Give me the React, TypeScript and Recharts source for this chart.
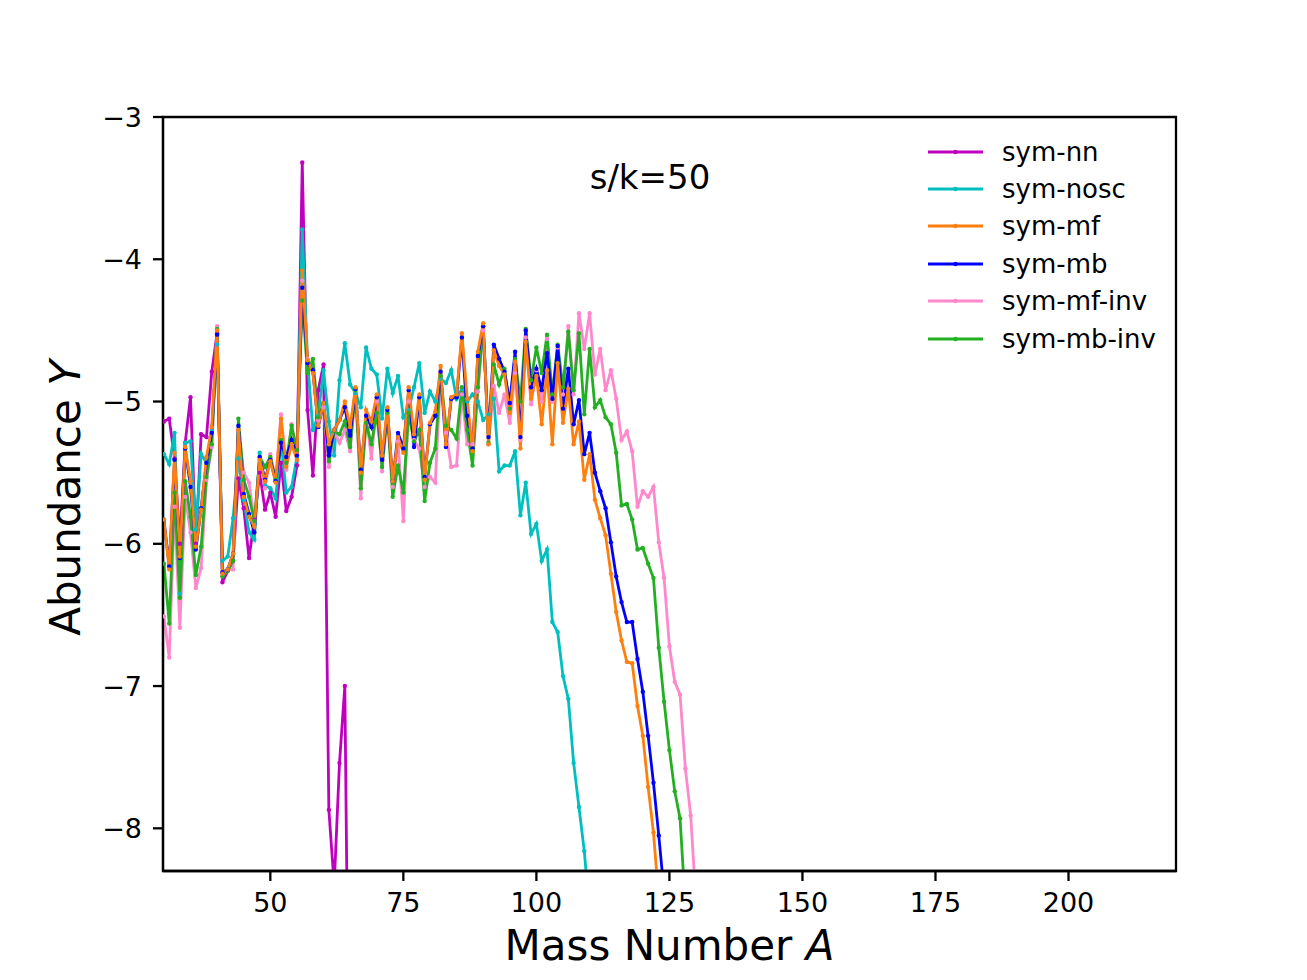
import { LineChart, Line, XAxis, YAxis, ReferenceArea, Label } from "recharts";

// mass numbers A on the x axis
const massNumbers = [
  30, 31, 32, 33, 34, 35, 36, 37, 38, 39,
  40, 41, 42, 43, 44, 45, 46, 47, 48, 49,
  50, 51, 52, 53, 54, 55, 56, 57, 58, 59,
  60, 61, 62, 63, 64, 65, 66, 67, 68, 69,
  70, 71, 72, 73, 74, 75, 76, 77, 78, 79,
  80, 81, 82, 83, 84, 85, 86, 87, 88, 89,
  90, 91, 92, 93, 94, 95, 96, 97, 98, 99,
  100, 101, 102, 103, 104, 105, 106, 107, 108, 109,
  110, 111, 112, 113, 114, 115, 116, 117, 118, 119,
  120, 121, 122, 123, 124, 125, 126, 127, 128, 129,
  130,
];

// log10 abundances, one value per mass number starting at A=30
const symNN = [
  -5.14, -5.12, -5.4, -6.0, -5.29, -4.97, -6.0, -5.23, -5.25, -4.79,
  -4.52, -6.27, -6.19, -6.12, -5.54, -5.75, -6.1, -5.83, -5.5, -5.76,
  -5.64, -5.81, -5.43, -5.77, -5.67, -5.45, -3.32, -5.06, -5.52, -4.92,
  -4.74, -7.87, -8.4, -7.54, -7.0, -10.6,
];

const symNosc = [
  -5.37, -5.44, -5.22, -6.35, -5.29, -5.28, -5.9, -5.37, -5.43, -5.2,
  -4.6, -6.12, -6.09, -5.82, -5.4, -5.69, -5.92, -5.97, -5.36, -5.59,
  -5.61, -5.68, -5.28, -5.64, -5.6, -5.39, -3.79, -4.71, -5.2, -5.1,
  -4.78, -5.14, -5.38, -4.85, -4.59, -4.88, -4.94, -5.04, -4.62, -4.77,
  -4.81, -5.12, -4.77, -4.94, -4.82, -5.11, -5.06, -4.9, -4.73, -5.08,
  -4.93, -5.0, -4.84, -4.87, -4.78, -4.98, -4.91, -5.0, -4.95, -5.0,
  -5.13, -5.09, -4.98, -5.49, -5.45, -5.45, -5.35, -5.8, -5.57, -5.93,
  -5.86, -6.12, -6.04, -6.55, -6.62, -6.93, -7.09, -7.54, -7.85, -8.16,
  -8.6,
];

const symMF = [
  -5.83, -6.18, -5.36, -6.09, -5.32, -5.56, -6.02, -5.76, -5.39, -5.18,
  -4.5, -6.21, -6.18, -6.07, -5.2, -5.67, -5.81, -5.88, -5.41, -5.56,
  -5.42, -5.57, -5.12, -5.46, -5.3, -5.41, -4.08, -4.71, -4.8, -5.17,
  -5.01, -5.3, -5.2, -5.13, -5.0, -5.18, -4.9, -5.5, -5.06, -5.14,
  -4.95, -5.38, -5.04, -5.56, -5.25, -5.36, -4.9, -5.23, -4.95, -5.55,
  -5.15, -5.07, -4.75, -5.3, -4.97, -4.95, -4.52, -4.98, -5.35, -4.65,
  -4.45, -5.3, -4.64, -4.75, -4.81, -5.08, -4.72, -5.33, -4.58, -4.98,
  -4.82, -5.16, -4.78, -5.3, -4.73, -5.15, -4.91, -5.3, -5.14, -5.55,
  -5.37, -5.69, -5.82, -5.94, -6.21, -6.48, -6.68, -6.83, -6.84, -7.14,
  -7.35, -7.71, -8.03, -8.5,
];

const symMB = [
  -5.83, -6.16, -5.41, -6.1, -5.33, -5.6, -6.04, -5.75, -5.43, -5.22,
  -4.53, -6.2, -6.18, -6.07, -5.17, -5.65, -5.79, -5.92, -5.39, -5.55,
  -5.41, -5.56, -5.29, -5.39, -5.27, -5.38, -4.2, -4.73, -4.78, -5.18,
  -5.01, -5.38, -5.2, -5.13, -5.04, -5.24, -4.91, -5.48, -5.1, -5.18,
  -4.97, -5.41, -5.06, -5.56, -5.22, -5.33, -4.92, -5.32, -4.97, -5.53,
  -5.16, -5.1, -4.79, -5.32, -4.98, -4.97, -4.55, -5.1, -5.33, -4.68,
  -4.47, -5.25, -4.6, -4.7, -4.79, -5.01, -4.65, -5.25, -4.5, -4.9,
  -4.77, -4.92, -4.66, -4.98, -4.61, -5.05, -4.77, -5.16, -4.99, -5.37,
  -5.22, -5.5, -5.63, -5.75, -5.99, -6.23, -6.41, -6.55, -6.55, -6.81,
  -7.04, -7.35, -7.68, -8.05, -8.45,
];

const symMFinv = [
  -6.51, -6.8, -5.74, -6.59, -5.67, -5.92, -6.31, -6.17, -5.55, -5.32,
  -4.47, -6.21, -6.18, -6.18, -5.2, -5.5, -5.57, -5.84, -5.41, -5.61,
  -5.37, -5.55, -5.09, -5.48, -5.16, -5.38, -4.15, -4.7, -4.8, -5.13,
  -5.04, -5.46, -5.21, -5.29, -5.2, -5.35, -4.92, -5.68, -5.1, -5.4,
  -5.0, -5.49, -5.08, -5.6, -5.28, -5.84, -5.0, -5.27, -5.33, -5.6,
  -5.53, -5.57, -4.82, -5.22, -5.46, -5.45, -4.95, -5.3, -5.3, -4.93,
  -4.5, -5.3, -4.89, -5.08, -4.95, -5.15, -4.8, -5.27, -4.55, -5.02,
  -4.78, -5.0, -4.56, -5.0, -4.62, -4.95, -4.47, -4.95, -4.38, -4.63,
  -4.38, -4.81, -4.63, -4.92, -4.78, -4.98, -5.27, -5.21, -5.35, -5.74,
  -5.63, -5.67, -5.6, -5.99, -6.24, -6.72, -6.97, -7.06, -7.58, -7.91,
  -8.52,
];

const symMBinv = [
  -6.14, -6.56, -5.64, -6.38, -5.56, -5.81, -6.22, -6.02, -5.53, -5.3,
  -4.49, -6.23, -6.19, -6.12, -5.12, -5.55, -5.67, -5.84, -5.39, -5.46,
  -5.39, -5.55, -5.27, -5.43, -5.17, -5.34, -4.29, -4.8, -4.7, -5.11,
  -5.01, -5.42, -5.21, -5.23, -5.14, -5.32, -4.92, -5.61, -5.15, -5.3,
  -5.08, -5.46, -5.08, -5.67, -5.45, -5.64, -5.08, -5.28, -5.2, -5.7,
  -5.43, -5.33, -4.82, -5.17, -5.2, -5.26, -4.9, -5.2, -5.45, -4.9,
  -4.47, -5.29, -4.74, -4.88, -4.77, -5.05, -4.7, -5.0, -4.49, -4.85,
  -4.62, -4.8, -4.53, -4.95, -4.6, -4.9, -4.51, -4.92, -4.52, -5.09,
  -4.63, -5.04, -4.99, -5.11, -5.16, -5.36, -5.73, -5.72, -5.83, -6.04,
  -6.03, -6.14, -6.24, -6.73, -7.11, -7.45, -7.74, -7.93, -8.55,
];

const xTicks = [50, 75, 100, 125, 150, 175, 200];
const yTicks = [-8, -7, -6, -5, -4, -3];

// legend order
const series = [
  { key: "nn", name: "sym-nn", color: "#bf00bf", values: symNN },
  { key: "nosc", name: "sym-nosc", color: "#00bfbf", values: symNosc },
  { key: "mf", name: "sym-mf", color: "#ff7f0e", values: symMF },
  { key: "mb", name: "sym-mb", color: "#0000ff", values: symMB },
  { key: "mfinv", name: "sym-mf-inv", color: "#ff88cc", values: symMFinv },
  { key: "mbinv", name: "sym-mb-inv", color: "#22b022", values: symMBinv },
];
// drawing order (orange ends up on top)
const drawOrder = ["nn", "nosc", "mfinv", "mbinv", "mb", "mf"];

const rows = massNumbers.map((A, i) => {
  const row: Record<string, number | null> = { A };
  series.forEach((s) => {
    row[s.key] = s.values[i] ?? null;
  });
  return row;
});

const FONT = "DejaVu Sans";
const X_DOMAIN: [number, number] = [29.83, 220.2];
const Y_DOMAIN: [number, number] = [-8.3, -3];
const minus = (v: number) => String(v).replace("-", "\u2212");

export default function App() {
  return (
    <div style={{ position: "absolute", left: 0, top: 0, width: 1307, height: 980, background: "#fff" }}>
      <LineChart width={1307} height={980} data={rows} margin={{ top: 117, right: 131, bottom: 0, left: 0 }}>
        <XAxis
          dataKey="A"
          type="number"
          domain={X_DOMAIN}
          ticks={xTicks}
          allowDataOverflow
          height={109}
          tickSize={10}
          tickMargin={12}
          tick={{ fontSize: 27, fill: "#000", fontFamily: FONT }}
          tickLine={{ stroke: "#000", strokeWidth: 2.3 }}
          axisLine={{ stroke: "#000", strokeWidth: 2.3 }}
        >
          <Label
            content={() => (
              <text x={669.5} y={960} textAnchor="middle" fontSize={42} fontFamily={FONT} fill="#000">
                Mass Number <tspan fontStyle="italic">A</tspan>
              </text>
            )}
          />
        </XAxis>
        <YAxis
          type="number"
          domain={Y_DOMAIN}
          ticks={yTicks}
          allowDataOverflow
          width={163}
          tickSize={10}
          tickMargin={11}
          tickFormatter={minus}
          tick={{ fontSize: 27, fill: "#000", fontFamily: FONT }}
          tickLine={{ stroke: "#000", strokeWidth: 2.3 }}
          axisLine={{ stroke: "#000", strokeWidth: 2.3 }}
        >
          <Label
            content={() => (
              <text
                x={80}
                y={498}
                transform="rotate(-90 80 498)"
                textAnchor="middle"
                fontSize={42}
                fontFamily={FONT}
                fill="#000"
              >
                Abundance <tspan fontStyle="italic">Y</tspan>
              </text>
            )}
          />
        </YAxis>
        {drawOrder.map((k) => {
          const s = series.find((x) => x.key === k)!;
          return (
            <Line
              key={s.key}
              dataKey={s.key}
              name={s.name}
              type="linear"
              stroke={s.color}
              strokeWidth={2.8}
              dot={{ r: 2.2, fill: s.color, stroke: "none" }}
              activeDot={false}
              isAnimationActive={false}
            />
          );
        })}
        <ReferenceArea
          x1={X_DOMAIN[0]}
          x2={X_DOMAIN[1]}
          y1={Y_DOMAIN[0]}
          y2={Y_DOMAIN[1]}
          fill="none"
          stroke="#000"
          strokeWidth={2.3}
          ifOverflow="visible"
        />
      </LineChart>

      <div
        style={{
          position: "absolute",
          left: 650,
          top: 177,
          transform: "translate(-50%, -50%)",
          fontFamily: FONT,
          fontSize: 34,
          lineHeight: 1,
          whiteSpace: "nowrap",
        }}
      >
        s/k=50
      </div>

      <div style={{ position: "absolute", left: 926, top: 133, fontFamily: FONT, fontSize: 26 }}>
        {series.map((s) => (
          <div key={s.key} style={{ height: 37.4, display: "flex", alignItems: "center" }}>
            <svg width={60} height={20} style={{ display: "block" }}>
              <line x1={2} y1={10} x2={57} y2={10} stroke={s.color} strokeWidth={2.8} />
              <circle cx={29.5} cy={10} r={2.2} fill={s.color} />
            </svg>
            <span style={{ marginLeft: 16, lineHeight: 1 }}>{s.name}</span>
          </div>
        ))}
      </div>
    </div>
  );
}
